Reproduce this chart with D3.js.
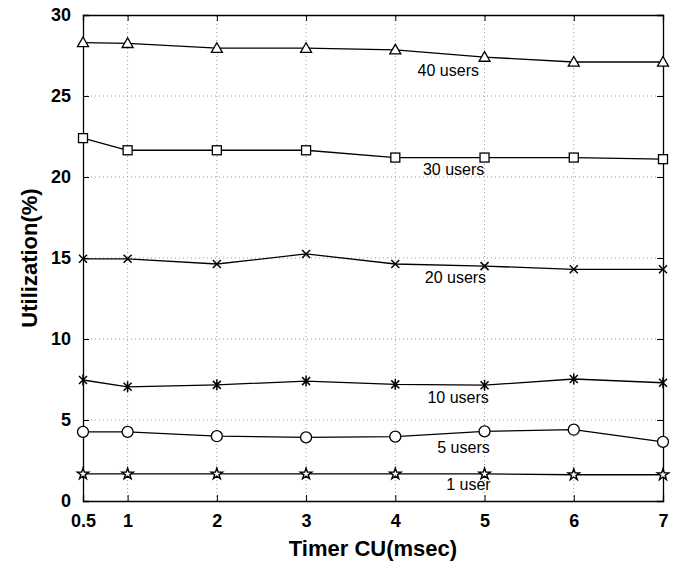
<!DOCTYPE html>
<html>
<head>
<meta charset="utf-8">
<script src="https://cdn.jsdelivr.net/npm/d3@7"></script>
<style>
  body { margin: 0; background: #fff; }
  svg { display: block; }
</style>
</head>
<body>
<svg></svg>
<script>
const timers = [0.5, 1, 2, 3, 4, 5, 6, 7];
const xTicks = [0.5, 1, 2, 3, 4, 5, 6, 7];
const yTicks = [0, 5, 10, 15, 20, 25, 30];

const users40 = [28.3, 28.25, 27.95, 27.95, 27.85, 27.4, 27.1, 27.1];
const users30 = [22.4, 21.65, 21.65, 21.65, 21.2, 21.2, 21.2, 21.1];
const users20 = [14.95, 14.95, 14.63, 15.25, 14.63, 14.5, 14.3, 14.3];
const users10 = [7.47, 7.05, 7.17, 7.4, 7.2, 7.15, 7.53, 7.3];
const users5 = [4.27, 4.27, 4.0, 3.93, 3.97, 4.3, 4.4, 3.65];
const users1 = [1.67, 1.67, 1.67, 1.67, 1.67, 1.67, 1.62, 1.62];

const seriesNames = ["40 users", "30 users", "20 users", "10 users", "5 users", "1 user"];
const seriesValues = [users40, users30, users20, users10, users5, users1];
const markers = ["triangle", "square", "x", "asterisk", "circle", "star"];
// where each label sits: [x in data units, y in data units]
const labelPos = [[4.25, 26.25], [4.31, 20.1], [4.33, 13.45], [4.36, 6.05], [4.47, 2.95], [4.57, 0.7]];

function chart() {
  const width = 683;
  const height = 564;
  const marginLeft = 83;
  const marginRight = 20;
  const marginTop = 15;
  const marginBottom = 63;
  const font = "'Liberation Sans Narrow', 'Arial Narrow', 'Liberation Sans', sans-serif";

  const svg = d3.select("svg").attr("width", width).attr("height", height);

  const x = d3.scaleLinear([0.5, 7], [marginLeft, width - marginRight]);
  const y = d3.scaleLinear([0, 30], [height - marginBottom, marginTop]);

  // grid
  svg.append("g")
    .selectAll("line")
    .data(xTicks.slice(1, -1))
    .join("line")
    .attr("x1", d => x(d)).attr("x2", d => x(d))
    .attr("y1", y(0)).attr("y2", y(30))
    .attr("stroke", "#999").attr("stroke-width", 1)
    .attr("stroke-dasharray", "1,3");

  svg.append("g")
    .selectAll("line")
    .data(yTicks.slice(1, -1))
    .join("line")
    .attr("x1", x(0.5)).attr("x2", x(7))
    .attr("y1", d => y(d)).attr("y2", d => y(d))
    .attr("stroke", "#999").attr("stroke-width", 1)
    .attr("stroke-dasharray", "1,3");

  // axes
  const xAxis = svg.append("g")
    .attr("transform", `translate(0,${y(0)})`)
    .call(d3.axisBottom(x).tickValues(xTicks).tickFormat(d3.format("")).tickSize(-6).tickPadding(12));
  const yAxis = svg.append("g")
    .attr("transform", `translate(${x(0.5)},0)`)
    .call(d3.axisLeft(y).tickValues(yTicks).tickSize(-6).tickPadding(12));
  // right and top ticks
  svg.append("g")
    .attr("transform", `translate(${x(7)},0)`)
    .call(d3.axisRight(y).tickValues(yTicks).tickSize(-6).tickFormat(""));
  svg.append("g")
    .attr("transform", `translate(0,${y(30)})`)
    .call(d3.axisTop(x).tickValues(xTicks).tickSize(-6).tickFormat(""));

  svg.selectAll(".domain").attr("stroke", "#000").attr("stroke-width", 1.3);
  svg.selectAll(".tick line").attr("stroke", "#000");
  [xAxis, yAxis].forEach(a => a.selectAll("text")
    .attr("font-family", font).attr("font-weight", "bold")
    .attr("font-size", 18).attr("fill", "#000"));
  xAxis.selectAll("text").attr("dy", "0.75em");

  // lines
  const line = d3.line().x((d, i) => x(timers[i])).y(d => y(d));

  const g = svg.append("g");
  seriesValues.forEach((vals, k) => {
    g.append("path")
      .attr("d", line(vals))
      .attr("fill", "none")
      .attr("stroke", "#000")
      .attr("stroke-width", 1.3);

    const m = g.append("g").selectAll("g")
      .data(vals)
      .join("g")
      .attr("transform", (d, i) => `translate(${x(timers[i])},${y(d)})`);
    drawMarker(m, markers[k]);

    g.append("text")
      .attr("x", x(labelPos[k][0]))
      .attr("y", y(labelPos[k][1]))
      .attr("font-family", font)
      .attr("font-size", 16)
      .attr("fill", "#000")
      .text(seriesNames[k]);
  });

  // axis titles
  svg.append("text")
    .attr("x", (x(0.5) + x(7)) / 2)
    .attr("y", 556)
    .attr("text-anchor", "middle")
    .attr("font-family", font)
    .attr("font-weight", "bold")
    .attr("font-size", 22)
    .text("Timer CU(msec)");

  svg.append("text")
    .attr("transform", `translate(37,${(y(0) + y(30)) / 2}) rotate(-90)`)
    .attr("text-anchor", "middle")
    .attr("font-family", font)
    .attr("font-weight", "bold")
    .attr("font-size", 22)
    .text("Utilization(%)");
}

function drawMarker(sel, type) {
  const s = 5.5;
  if (type === "triangle") {
    sel.append("path")
      .attr("d", `M0,${-s}L${s},${s * 0.75}L${-s},${s * 0.75}Z`)
      .attr("fill", "#fff").attr("stroke", "#000").attr("stroke-width", 1.3);
  } else if (type === "square") {
    sel.append("rect")
      .attr("x", -4.5).attr("y", -4.5).attr("width", 9).attr("height", 9)
      .attr("fill", "#fff").attr("stroke", "#000").attr("stroke-width", 1.3);
  } else if (type === "circle") {
    sel.append("circle").attr("r", 5.5)
      .attr("fill", "#fff").attr("stroke", "#000").attr("stroke-width", 1.3);
  } else if (type === "x") {
    sel.append("path")
      .attr("d", "M-4,-4L4,4M-4,4L4,-4")
      .attr("stroke", "#000").attr("stroke-width", 1.5);
  } else if (type === "asterisk") {
    sel.append("path")
      .attr("d", "M-4,-4L4,4M-4,4L4,-4M0,-5.5L0,5.5")
      .attr("stroke", "#000").attr("stroke-width", 1.5);
  } else if (type === "star") {
    sel.append("path")
      .attr("d", d3.symbol(d3.symbolStar, 40)())
      .attr("fill", "#fff").attr("stroke", "#000").attr("stroke-width", 1.4);
  }
}

chart();
</script>
</body>
</html>
